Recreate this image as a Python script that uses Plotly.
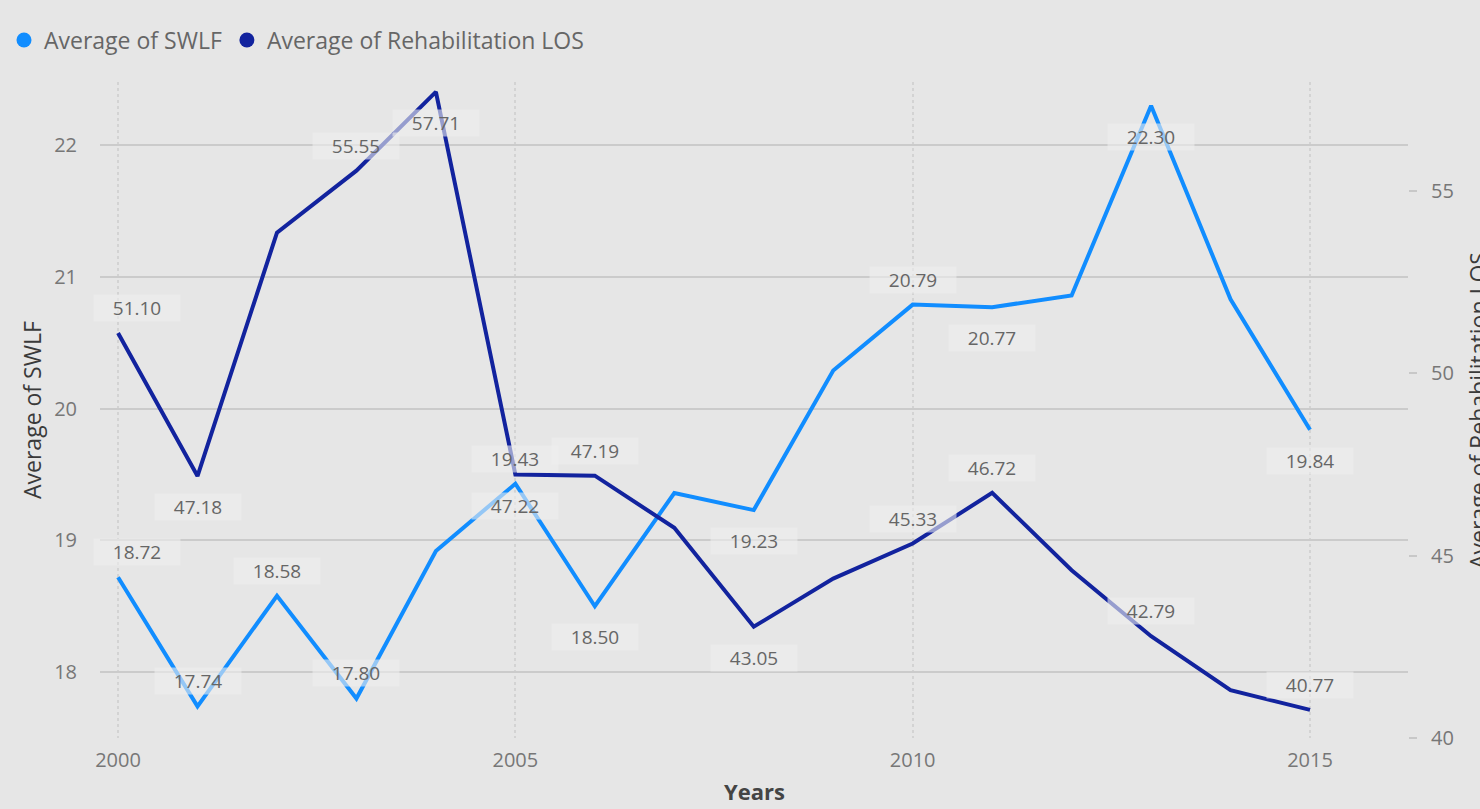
import plotly.graph_objects as go

# ---------------- data ----------------
years = list(range(2000, 2016))
swlf = [18.72, 17.74, 18.58, 17.80, 18.92, 19.43, 18.50, 19.36,
        19.23, 20.29, 20.79, 20.77, 20.86, 22.30, 20.83, 19.84]
rehab_los = [51.10, 47.18, 53.85, 55.55, 57.71, 47.22, 47.19, 45.76,
             43.05, 44.37, 45.33, 46.72, 44.60, 42.79, 41.31, 40.77]
x_tick_vals = [2000, 2005, 2010, 2015]
y_tick_vals = [18, 19, 20, 21, 22]
y2_tick_vals = [40, 45, 50, 55]

series_names = ["Average of SWLF", "Average of Rehabilitation LOS"]

# label placement (layout only): "a" above, "b" below, None = no label
swlf_label_pos = ["a", "a", "a", "a", None, "a", "b", None,
                  "b", None, "a", "b", None, "b", None, "b"]
rehab_label_pos = ["a", "b", None, "a", "b", "b", "a", None,
                   "b", None, "a", "a", None, "a", None, "a"]

# ---------------- style ----------------
C_SWLF = "#118DFF"
C_REHAB = "#12239E"
BG = "#e6e6e6"
FONT = "Open Sans"
LABEL_COLOR = "#666666"
TICK_COLOR = "#777777"
TITLE_COLOR = "#3a3a3a"

fig = go.Figure()

fig.add_trace(go.Scatter(x=years, y=swlf, mode="lines", name=series_names[0],
                         line=dict(color=C_SWLF, width=4), yaxis="y",
                         showlegend=False))
fig.add_trace(go.Scatter(x=years, y=rehab_los, mode="lines", name=series_names[1],
                         line=dict(color=C_REHAB, width=4), yaxis="y2",
                         showlegend=False))
# legend entries (circle markers like the original legend)
fig.add_trace(go.Scatter(x=[None], y=[None], mode="markers", name=series_names[0],
                         marker=dict(color=C_SWLF, size=15, symbol="circle")))
fig.add_trace(go.Scatter(x=[None], y=[None], mode="markers", name=series_names[1],
                         marker=dict(color=C_REHAB, size=15, symbol="circle")))

annotations = []


def add_labels(xs, ys, positions, yref):
    for i, (xv, yv, p) in enumerate(zip(xs, ys, positions)):
        if p is None:
            continue
        annotations.append(dict(
            x=xv, y=yv, xref="x", yref=yref, text=f"{yv:.2f}",
            showarrow=False, xanchor="center", yanchor="middle",
            yshift=25 if p == "a" else -31,
            xshift=19 if i == 0 else 0,
            font=dict(family=FONT, size=19, color=LABEL_COLOR),
            bgcolor="rgba(238,238,238,0.6)", width=86, height=26, borderpad=0,
        ))


add_labels(years, swlf, swlf_label_pos, "y")
add_labels(years, rehab_los, rehab_label_pos, "y2")

# axis titles
annotations.append(dict(text="Average of SWLF", xref="paper", yref="paper",
                        x=-0.052, y=0.5, textangle=-90, showarrow=False,
                        xanchor="center", yanchor="middle",
                        font=dict(family=FONT, size=23, color=TITLE_COLOR)))
annotations.append(dict(text="Average of Rehabilitation LOS", xref="paper", yref="paper",
                        x=1.0535, y=0.5, textangle=-90, showarrow=False,
                        xanchor="center", yanchor="middle",
                        font=dict(family=FONT, size=23, color=TITLE_COLOR)))
annotations.append(dict(text="<b>Years</b>", xref="paper", yref="paper",
                        x=0.5, y=-0.0808, showarrow=False,
                        xanchor="center", yanchor="middle",
                        font=dict(family=FONT, size=22, color="#444444")))

fig.update_layout(
    width=1480, height=809,
    margin=dict(l=100, r=72, t=82, b=71, pad=0, autoexpand=False),
    paper_bgcolor=BG, plot_bgcolor=BG,
    font=dict(family=FONT, color=TICK_COLOR),
    showlegend=True,
    legend=dict(orientation="h", x=-0.0734, xanchor="left", y=1.064, yanchor="middle",
                font=dict(family=FONT, size=23, color="#666666"),
                bgcolor="rgba(0,0,0,0)", itemclick=False, itemdoubleclick=False),
    xaxis=dict(range=[1999.773, 2016.233], tickvals=x_tick_vals,
               ticktext=[str(v) for v in x_tick_vals],
               showgrid=True, gridcolor="#d3d3d3", griddash="dot", gridwidth=2,
               zeroline=False, showline=False, ticks="",
               tickfont=dict(family=FONT, size=20, color=TICK_COLOR),
               ticklabelstandoff=8),
    yaxis=dict(range=[17.5, 22.48], tickvals=y_tick_vals,
               showgrid=True, gridcolor="#cbcbcb", gridwidth=1.5,
               zeroline=False, showline=False, ticks="",
               tickfont=dict(family=FONT, size=20, color=TICK_COLOR),
               ticklabelstandoff=22),
    yaxis2=dict(range=[40, 57.98], tickvals=y2_tick_vals, overlaying="y", side="right",
                showgrid=False, zeroline=False, showline=False,
                ticks="outside", ticklen=8, tickcolor="#c8c8c8", tickwidth=1.5,
                tickfont=dict(family=FONT, size=20, color=TICK_COLOR),
                ticklabelstandoff=10),
    annotations=annotations,
    hovermode=False,
)

fig.write_html("out.html")
